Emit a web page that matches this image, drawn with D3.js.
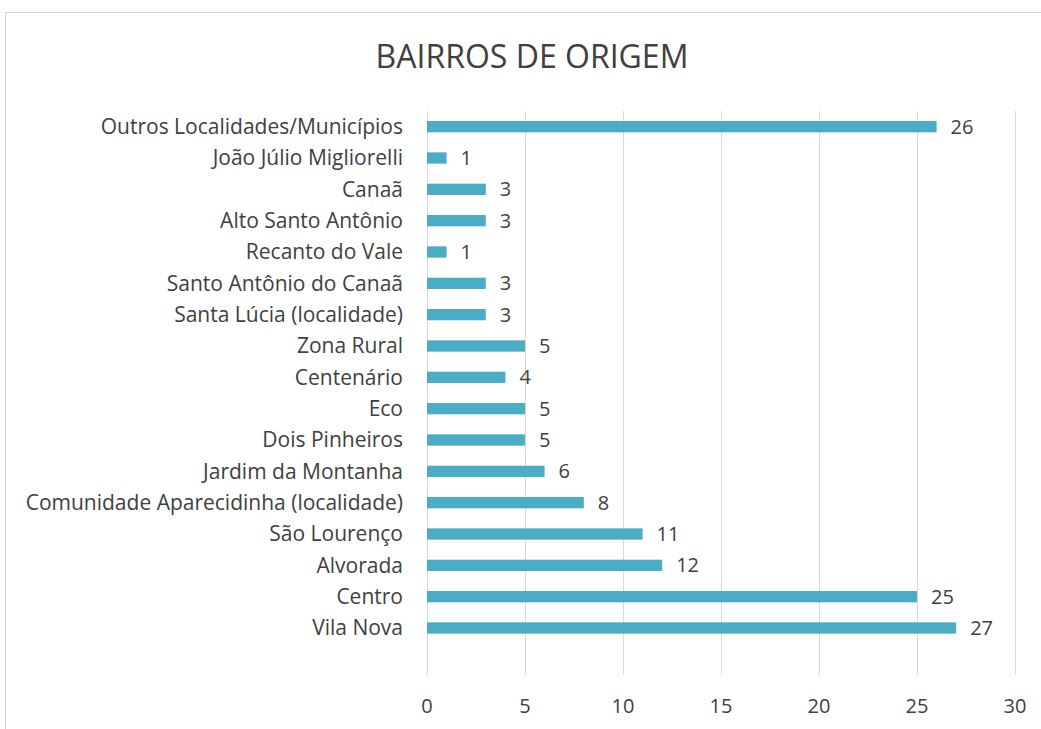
<!DOCTYPE html>
<html>
<head>
<meta charset="utf-8">
<script src="https://cdn.jsdelivr.net/npm/d3@7"></script>
<style>
  body { margin: 0; background: #fff; }
  text { font-family: "Open Sans", sans-serif; fill: #404040; }
</style>
</head>
<body>
<div id="chart"></div>
<script>
const categories = [
  "Outros Localidades/Municípios", "João Júlio Migliorelli", "Canaã", "Alto Santo Antônio",
  "Recanto do Vale", "Santo Antônio do Canaã", "Santa Lúcia (localidade)", "Zona Rural",
  "Centenário", "Eco", "Dois Pinheiros", "Jardim da Montanha",
  "Comunidade Aparecidinha (localidade)", "São Lourenço", "Alvorada", "Centro", "Vila Nova"
];
const values = [26, 1, 3, 3, 1, 3, 3, 5, 4, 5, 5, 6, 8, 11, 12, 25, 27];
const xTicks = [0, 5, 10, 15, 20, 25, 30];

const W = 1041, H = 729;
const plot = { left: 427, right: 1015, top: 111, bottom: 675 };
const step = (plot.bottom - plot.top) / (categories.length + 1);

const svg = d3.select("#chart").append("svg")
  .attr("width", W)
  .attr("height", H);

// chart border
svg.append("rect")
  .attr("x", 5.5).attr("y", 12.5)
  .attr("width", W + 10).attr("height", H + 10)
  .attr("fill", "none").attr("stroke", "#d9d9d9");

svg.append("text")
  .attr("x", 532).attr("y", 68)
  .attr("text-anchor", "middle")
  .attr("font-size", "32px")
  .text("BAIRROS DE ORIGEM");

const x = d3.scaleLinear().domain([0, 30]).range([plot.left, plot.right]);
const y = d3.scaleBand()
  .domain(categories)
  .range([plot.top, plot.top + step * categories.length])
  .paddingInner(0.64).paddingOuter(0.32);

// gridlines
svg.append("g").selectAll("line")
  .data(xTicks)
  .join("line")
  .attr("x1", d => x(d) + 0.5).attr("x2", d => x(d) + 0.5)
  .attr("y1", plot.top).attr("y2", plot.bottom)
  .attr("stroke", "#d9d9d9");

// x tick labels
svg.append("g").selectAll("text")
  .data(xTicks)
  .join("text")
  .attr("x", d => x(d)).attr("y", 713)
  .attr("text-anchor", "middle")
  .attr("font-size", "20px")
  .text(d => d);

// bars
svg.append("g").selectAll("rect")
  .data(categories)
  .join("rect")
  .attr("x", x(0))
  .attr("y", d => y(d))
  .attr("width", (d, i) => x(values[i]) - x(0))
  .attr("height", y.bandwidth())
  .attr("fill", "#4bacc6");

// category labels
svg.append("g").selectAll("text")
  .data(categories)
  .join("text")
  .attr("x", 403)
  .attr("y", d => y(d) + y.bandwidth() / 2)
  .attr("dy", "0.35em")
  .attr("text-anchor", "end")
  .attr("font-size", "21px")
  .text(d => d);

// value labels
svg.append("g").selectAll("text")
  .data(categories)
  .join("text")
  .attr("x", (d, i) => x(values[i]) + 14)
  .attr("y", d => y(d) + y.bandwidth() / 2)
  .attr("dy", "0.35em")
  .attr("font-size", "20px")
  .text((d, i) => values[i]);
</script>
</body>
</html>
